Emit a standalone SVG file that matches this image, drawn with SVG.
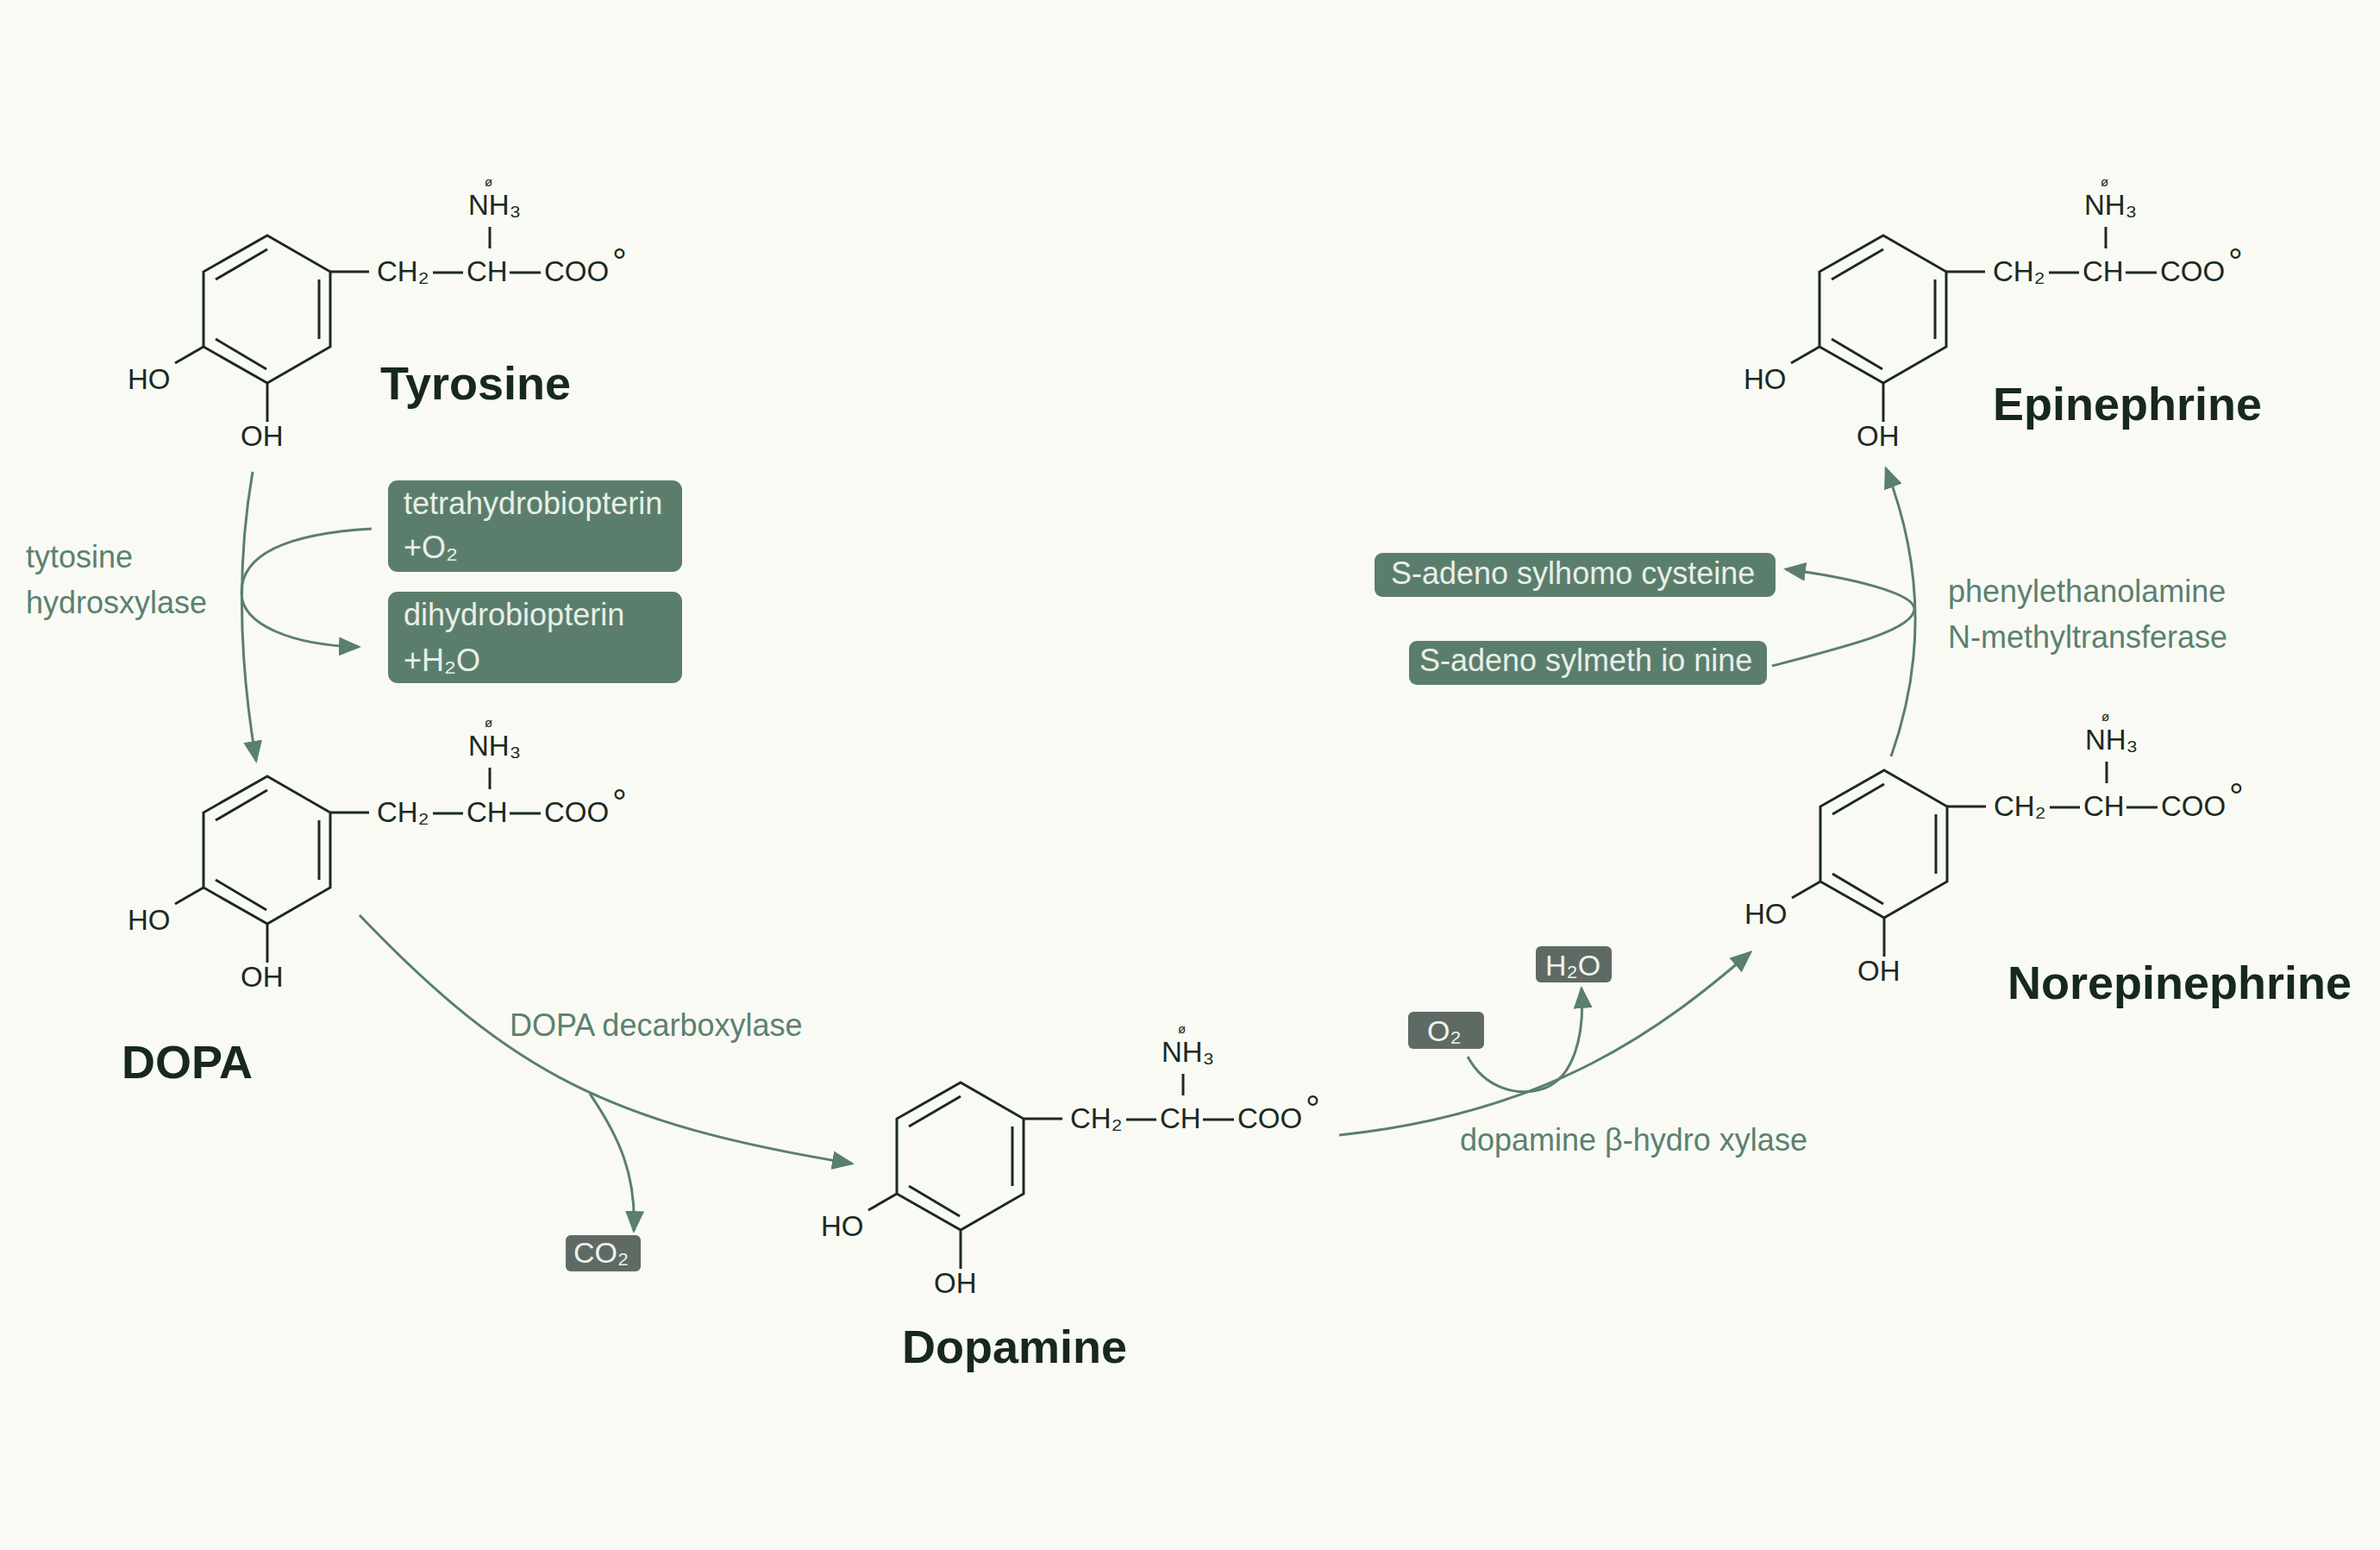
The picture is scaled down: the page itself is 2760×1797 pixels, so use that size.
<svg xmlns="http://www.w3.org/2000/svg" width="2760" height="1797" viewBox="0 0 2760 1797">
<style>
  .bond{fill:none;stroke:#1b2a22;stroke-width:3;stroke-linecap:butt;stroke-linejoin:miter}
  .chem{font-family:"Liberation Sans",Arial,sans-serif;font-size:33px;fill:#1b2a22}
  .chg{font-family:"Liberation Sans",Arial,sans-serif;font-size:15px;fill:#1b2a22}
  .deg{font-family:"Liberation Sans",Arial,sans-serif;font-size:42px;fill:#1b2a22}
  .name{font-family:"Liberation Sans",Arial,sans-serif;font-size:54px;font-weight:bold;fill:#17281e}
  .enz{font-family:"Liberation Sans",Arial,sans-serif;font-size:36px;fill:#5b8170}
  .gbox{fill:#5b7e6c}
  .dbox{fill:#5f6a64}
  .btxt{font-family:"Liberation Sans",Arial,sans-serif;font-size:36px;fill:#e8efe9}
  .stxt{font-family:"Liberation Sans",Arial,sans-serif;font-size:34px;fill:#eef2ee}
  .arr{fill:none;stroke:#5a7f6e;stroke-width:3}
</style>
<defs>
  <marker id="ah" markerUnits="userSpaceOnUse" markerWidth="26" markerHeight="24" viewBox="0 0 26 24" refX="23" refY="12" orient="auto">
    <path d="M0,1 L26,12 L0,23 z" fill="#5a7f6e"/>
  </marker>
</defs>
<rect x="0" y="0" width="2760" height="1797" fill="#f9faf4"/>

<g id="tyrosine">
  <polygon class="bond" points="310,273 383,315 383,402 310,444 236,402 236,315"/>
  <line class="bond" x1="250" y1="324" x2="310" y2="289"/>
  <line class="bond" x1="370" y1="324" x2="370" y2="393"/>
  <line class="bond" x1="250" y1="393" x2="309" y2="428"/>
  <line class="bond" x1="383" y1="315" x2="428" y2="315"/>
  <line class="bond" x1="502" y1="316" x2="537" y2="316"/>
  <line class="bond" x1="591" y1="316" x2="627" y2="316"/>
  <line class="bond" x1="568" y1="263" x2="568" y2="288"/>
  <line class="bond" x1="236" y1="402" x2="203" y2="421"/>
  <line class="bond" x1="310" y1="444" x2="310" y2="489"/>
  <text class="chem" x="437" y="326">CH₂</text>
  <text class="chem" x="541" y="326">CH</text>
  <text class="chem" x="631" y="326">COO</text>
  <text class="deg" x="710" y="318">°</text>
  <text class="chem" x="543" y="249">NH₃</text>
  <text class="chg" x="562" y="216">ø</text>
  <text class="chem" x="148" y="451">HO</text>
  <text class="chem" x="279" y="517">OH</text>
  <text class="name" x="441" y="463">Tyrosine</text>
</g>

<g id="dopa">
  <g transform="translate(0,627)">
    <polygon class="bond" points="310,273 383,315 383,402 310,444 236,402 236,315"/>
    <line class="bond" x1="250" y1="324" x2="310" y2="289"/>
    <line class="bond" x1="370" y1="324" x2="370" y2="393"/>
    <line class="bond" x1="250" y1="393" x2="309" y2="428"/>
    <line class="bond" x1="383" y1="315" x2="428" y2="315"/>
    <line class="bond" x1="502" y1="316" x2="537" y2="316"/>
    <line class="bond" x1="591" y1="316" x2="627" y2="316"/>
    <line class="bond" x1="568" y1="263" x2="568" y2="288"/>
    <line class="bond" x1="236" y1="402" x2="203" y2="421"/>
    <line class="bond" x1="310" y1="444" x2="310" y2="489"/>
    <text class="chem" x="437" y="326">CH₂</text>
    <text class="chem" x="541" y="326">CH</text>
    <text class="chem" x="631" y="326">COO</text>
    <text class="deg" x="710" y="318">°</text>
    <text class="chem" x="543" y="249">NH₃</text>
    <text class="chg" x="562" y="216">ø</text>
    <text class="chem" x="148" y="451">HO</text>
    <text class="chem" x="279" y="517">OH</text>
  </g>
  <text class="name" x="141" y="1250">DOPA</text>
</g>

<g id="dopamine">
  <g transform="translate(804,982)">
    <polygon class="bond" points="310,273 383,315 383,402 310,444 236,402 236,315"/>
    <line class="bond" x1="250" y1="324" x2="310" y2="289"/>
    <line class="bond" x1="370" y1="324" x2="370" y2="393"/>
    <line class="bond" x1="250" y1="393" x2="309" y2="428"/>
    <line class="bond" x1="383" y1="315" x2="428" y2="315"/>
    <line class="bond" x1="502" y1="316" x2="537" y2="316"/>
    <line class="bond" x1="591" y1="316" x2="627" y2="316"/>
    <line class="bond" x1="568" y1="263" x2="568" y2="288"/>
    <line class="bond" x1="236" y1="402" x2="203" y2="421"/>
    <line class="bond" x1="310" y1="444" x2="310" y2="489"/>
    <text class="chem" x="437" y="326">CH₂</text>
    <text class="chem" x="541" y="326">CH</text>
    <text class="chem" x="631" y="326">COO</text>
    <text class="deg" x="710" y="318">°</text>
    <text class="chem" x="543" y="249">NH₃</text>
    <text class="chg" x="562" y="216">ø</text>
    <text class="chem" x="148" y="451">HO</text>
    <text class="chem" x="279" y="517">OH</text>
  </g>
  <text class="name" x="1046" y="1580">Dopamine</text>
</g>

<g id="norepinephrine">
  <g transform="translate(1875,620)">
    <polygon class="bond" points="310,273 383,315 383,402 310,444 236,402 236,315"/>
    <line class="bond" x1="250" y1="324" x2="310" y2="289"/>
    <line class="bond" x1="370" y1="324" x2="370" y2="393"/>
    <line class="bond" x1="250" y1="393" x2="309" y2="428"/>
    <line class="bond" x1="383" y1="315" x2="428" y2="315"/>
    <line class="bond" x1="502" y1="316" x2="537" y2="316"/>
    <line class="bond" x1="591" y1="316" x2="627" y2="316"/>
    <line class="bond" x1="568" y1="263" x2="568" y2="288"/>
    <line class="bond" x1="236" y1="402" x2="203" y2="421"/>
    <line class="bond" x1="310" y1="444" x2="310" y2="489"/>
    <text class="chem" x="437" y="326">CH₂</text>
    <text class="chem" x="541" y="326">CH</text>
    <text class="chem" x="631" y="326">COO</text>
    <text class="deg" x="710" y="318">°</text>
    <text class="chem" x="543" y="249">NH₃</text>
    <text class="chg" x="562" y="216">ø</text>
    <text class="chem" x="148" y="451">HO</text>
    <text class="chem" x="279" y="517">OH</text>
  </g>
  <text class="name" x="2328" y="1158">Norepinephrine</text>
</g>

<g id="epinephrine">
  <g transform="translate(1874,0)">
    <polygon class="bond" points="310,273 383,315 383,402 310,444 236,402 236,315"/>
    <line class="bond" x1="250" y1="324" x2="310" y2="289"/>
    <line class="bond" x1="370" y1="324" x2="370" y2="393"/>
    <line class="bond" x1="250" y1="393" x2="309" y2="428"/>
    <line class="bond" x1="383" y1="315" x2="428" y2="315"/>
    <line class="bond" x1="502" y1="316" x2="537" y2="316"/>
    <line class="bond" x1="591" y1="316" x2="627" y2="316"/>
    <line class="bond" x1="568" y1="263" x2="568" y2="288"/>
    <line class="bond" x1="236" y1="402" x2="203" y2="421"/>
    <line class="bond" x1="310" y1="444" x2="310" y2="489"/>
    <text class="chem" x="437" y="326">CH₂</text>
    <text class="chem" x="541" y="326">CH</text>
    <text class="chem" x="631" y="326">COO</text>
    <text class="deg" x="710" y="318">°</text>
    <text class="chem" x="543" y="249">NH₃</text>
    <text class="chg" x="562" y="216">ø</text>
    <text class="chem" x="148" y="451">HO</text>
    <text class="chem" x="279" y="517">OH</text>
  </g>
  <text class="name" x="2311" y="487">Epinephrine</text>
</g>

<g id="box-tetrahydrobiopterin">
  <rect class="gbox" x="450" y="557" width="341" height="106" rx="11"/>
  <text class="btxt" x="468" y="596">tetrahydrobiopterin</text>
  <text class="btxt" x="468" y="647">+O₂</text>
</g>
<g id="box-dihydrobiopterin">
  <rect class="gbox" x="450" y="686" width="341" height="106" rx="11"/>
  <text class="btxt" x="468" y="725">dihydrobiopterin</text>
  <text class="btxt" x="468" y="778">+H₂O</text>
</g>
<g id="box-co2">
  <rect class="dbox" x="656" y="1432" width="87" height="42" rx="6"/>
  <text class="stxt" x="665" y="1464">CO₂</text>
</g>
<g id="box-o2">
  <rect class="dbox" x="1633" y="1173" width="88" height="43" rx="6"/>
  <text class="stxt" x="1655" y="1207">O₂</text>
</g>
<g id="box-h2o">
  <rect class="dbox" x="1781" y="1097" width="88" height="42" rx="6"/>
  <text class="stxt" x="1792" y="1131">H₂O</text>
</g>
<g id="box-sah">
  <rect class="gbox" x="1594" y="641" width="465" height="51" rx="9"/>
  <text class="btxt" x="1613" y="677">S-adeno sylhomo cysteine</text>
</g>
<g id="box-sam">
  <rect class="gbox" x="1634" y="743" width="415" height="51" rx="9"/>
  <text class="btxt" x="1646" y="778">S-adeno sylmeth io nine</text>
</g>

<g id="enzyme-labels">
  <text class="enz" x="30" y="658">tytosine</text>
  <text class="enz" x="30" y="711">hydrosxylase</text>
  <text class="enz" x="591" y="1201">DOPA decarboxylase</text>
  <text class="enz" x="1693" y="1334">dopamine β-hydro xylase</text>
  <text class="enz" x="2259" y="698">phenylethanolamine</text>
  <text class="enz" x="2259" y="751">N-methyltransferase</text>
</g>

<g id="connectors">
  <path class="arr" d="M293,547 Q266,700 297,882" marker-end="url(#ah)"/>
  <path class="arr" d="M431,613 C345,618 280,638 280,687 C280,725 340,748 416,750" marker-end="url(#ah)"/>
  <path class="arr" d="M417,1061 C594,1246 709,1303 988,1349" marker-end="url(#ah)"/>
  <path class="arr" d="M684,1268 C718,1318 738,1362 735,1427" marker-end="url(#ah)"/>
  <path class="arr" d="M1553,1316 C1800,1290 1930,1190 2030,1104" marker-end="url(#ah)"/>
  <path class="arr" d="M1702,1225 C1722,1262 1760,1272 1790,1262 C1825,1250 1838,1200 1834,1146" marker-end="url(#ah)"/>
  <path class="arr" d="M2193,877 Q2252,710 2187,543" marker-end="url(#ah)"/>
  <path class="arr" d="M2055,772 C2140,750 2222,730 2220,705 C2218,688 2150,670 2071,660" marker-end="url(#ah)"/>
</g>
</svg>
